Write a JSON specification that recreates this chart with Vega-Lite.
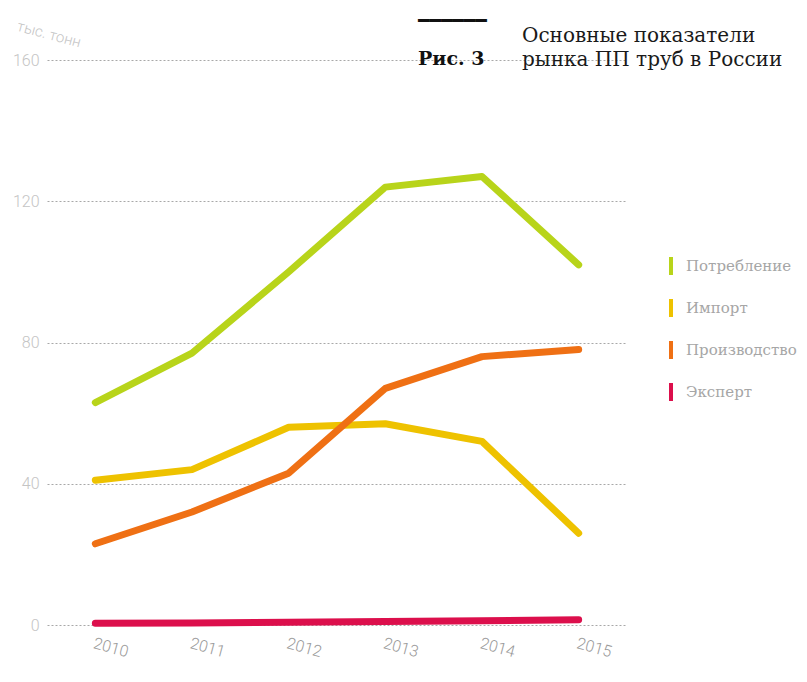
{
  "$schema": "https://vega.github.io/schema/vega-lite/v6.json",
  "background": "white",
  "padding": {"left": 12, "top": 11, "right": 5, "bottom": 5},
  "config": {"view": {"stroke": null}},
  "title": {
    "text": ["Основные показатели", "рынка ПП труб в России"],
    "anchor": "start",
    "frame": "group",
    "dx": 475,
    "offset": -58,
    "font": "DejaVu Serif",
    "fontSize": 20,
    "fontWeight": "normal",
    "color": "#1a1a1a",
    "lineHeight": 24
  },
  "data": {
    "values": [
      {"year": "2010", "series": "Потребление", "value": 63},
      {"year": "2011", "series": "Потребление", "value": 77},
      {"year": "2012", "series": "Потребление", "value": 100},
      {"year": "2013", "series": "Потребление", "value": 124},
      {"year": "2014", "series": "Потребление", "value": 127},
      {"year": "2015", "series": "Потребление", "value": 102},
      {"year": "2010", "series": "Импорт", "value": 41},
      {"year": "2011", "series": "Импорт", "value": 44},
      {"year": "2012", "series": "Импорт", "value": 56},
      {"year": "2013", "series": "Импорт", "value": 57},
      {"year": "2014", "series": "Импорт", "value": 52},
      {"year": "2015", "series": "Импорт", "value": 26},
      {"year": "2010", "series": "Производство", "value": 23},
      {"year": "2011", "series": "Производство", "value": 32},
      {"year": "2012", "series": "Производство", "value": 43},
      {"year": "2013", "series": "Производство", "value": 67},
      {"year": "2014", "series": "Производство", "value": 76},
      {"year": "2015", "series": "Производство", "value": 78},
      {"year": "2010", "series": "Эксперт", "value": 0.5},
      {"year": "2011", "series": "Эксперт", "value": 0.6},
      {"year": "2012", "series": "Эксперт", "value": 0.8},
      {"year": "2013", "series": "Эксперт", "value": 1},
      {"year": "2014", "series": "Эксперт", "value": 1.2},
      {"year": "2015", "series": "Эксперт", "value": 1.5}
    ]
  },
  "vconcat": [
    {
      "width": 580,
      "height": 565,
      "title": {
        "text": ["━━━━━━", "Рис. 3"],
        "anchor": "start",
        "frame": "group",
        "dx": 371,
        "offset": -50,
        "font": "DejaVu Serif",
        "fontSize": 19,
        "fontWeight": "bold",
        "color": "#111",
        "lineHeight": 38
      },
      "mark": {"type": "line", "strokeWidth": 7, "strokeCap": "round", "strokeJoin": "round"},
      "encoding": {
        "x": {
          "field": "year",
          "type": "ordinal",
          "scale": {"type": "point", "padding": 0.5},
          "axis": {
            "title": null,
            "labelAngle": 15,
            "labelColor": "#9a9a9a",
            "labelFont": "Roboto",
            "labelFontWeight": 300,
            "labelFontSize": 16,
            "labelPadding": 10,
            "domain": false,
            "ticks": false,
            "grid": false
          }
        },
        "y": {
          "field": "value",
          "type": "quantitative",
          "scale": {"domain": [0, 160], "nice": false},
          "axis": {
            "values": [0, 40, 80, 120, 160],
            "title": "тыс. тонн",
            "titleAngle": 15,
            "titleAlign": "left",
            "titleBaseline": "bottom",
            "titleX": -32,
            "titleY": -27,
            "titleColor": "#c4c4c4",
            "titleFont": "Roboto",
            "titleFontWeight": 300,
            "titleFontSize": 15,
            "labelColor": "#c4c4c4",
            "labelFont": "Roboto",
            "labelFontWeight": 300,
            "labelFontSize": 16,
            "labelPadding": 8,
            "domain": false,
            "ticks": false,
            "grid": true,
            "gridColor": "#a8a8a8",
            "gridDash": [2, 2],
            "gridWidth": 1
          }
        },
        "color": {
          "field": "series",
          "type": "nominal",
          "scale": {
            "domain": ["Потребление", "Импорт", "Производство", "Эксперт"],
            "range": ["#b8d41a", "#eec200", "#ef7014", "#dc0f4c"]
          },
          "legend": {
            "title": null,
            "orient": "none",
            "legendX": 613,
            "legendY": 195,
            "symbolType": "M0,-1L0,1",
            "symbolSize": 324,
            "symbolStrokeWidth": 4,
            "labelFont": "DejaVu Serif",
            "labelFontSize": 15,
            "labelColor": "#a6a6a6",
            "labelOffset": 4,
            "rowPadding": 8
          }
        }
      }
    }
  ]
}
